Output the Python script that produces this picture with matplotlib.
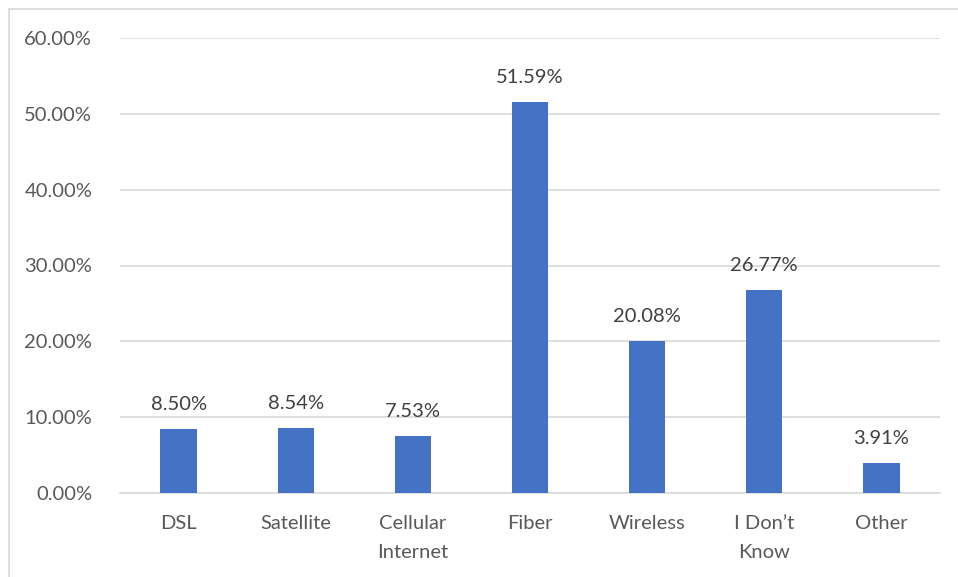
import matplotlib
matplotlib.use('Agg')
import matplotlib.pyplot as plt
from matplotlib.patches import Rectangle

plt.rcParams['font.family'] = ['Lato', 'DejaVu Sans']

categories = ['DSL', 'Satellite', 'Cellular\nInternet', 'Fiber', 'Wireless', 'I Don\u2019t\nKnow', 'Other']
values = [8.50, 8.54, 7.53, 51.59, 20.08, 26.77, 3.91]
yticks = [0, 10, 20, 30, 40, 50, 60]

W, H = 958, 577
fig = plt.figure(figsize=(W / 100, H / 100), dpi=100)
ax = fig.add_axes([120 / W, 1 - 493 / H, (940 - 120) / W, (493 - 38) / H])

# chart border (only top/left visible, rest cropped)
fig.patches.append(Rectangle((9 / W, -0.1), 1.2, 1 - 9 / H + 0.1, transform=fig.transFigure,
                             fill=False, edgecolor='#D9D9D9', linewidth=1.2))

x = range(len(categories))
ax.bar(x, values, width=0.31, color='#4472C4', zorder=3)
for i, v in zip(x, values):
    ax.text(i, v + 2.1, f'{v:.2f}%', ha='center', va='bottom', fontsize=14.5, color='#404040')

ax.set_xlim(-0.5, len(categories) - 0.5)
ax.set_ylim(0, 60)
ax.set_yticks(yticks)
ax.set_yticklabels([f'{t:.2f}%' for t in yticks], fontsize=14.5, color='#595959')
ax.set_xticks(list(x))
ax.set_xticklabels(categories, fontsize=14.5, color='#595959', linespacing=1.85)
ax.tick_params(length=0, axis='both')
ax.tick_params(axis='y', pad=20)
ax.tick_params(axis='x', pad=16)
ax.yaxis.grid(True, color='#D9D9D9', linewidth=1.2, zorder=0)
for s in ['top', 'right', 'left']:
    ax.spines[s].set_visible(False)
ax.spines['bottom'].set_color('#D9D9D9')
ax.spines['bottom'].set_linewidth(1.2)

fig.savefig('out.png', dpi=100)
